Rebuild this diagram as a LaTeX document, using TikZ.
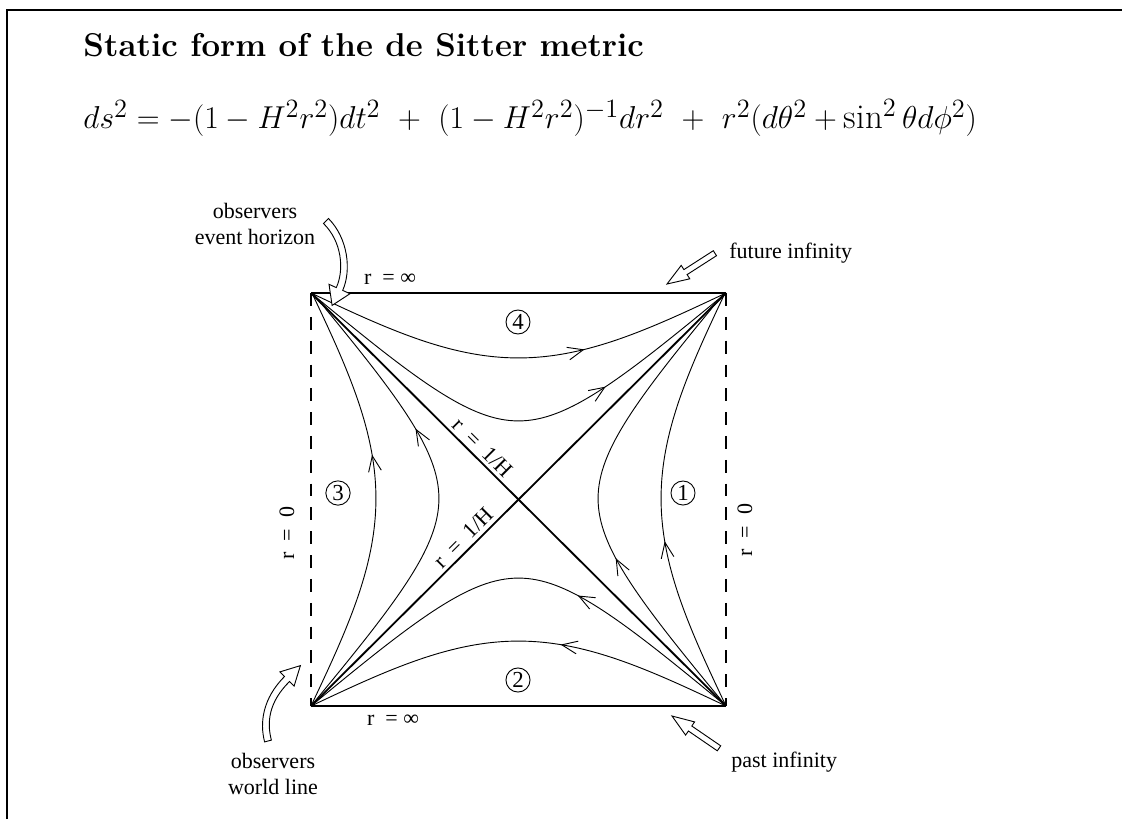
\documentclass[tikz,border=0pt]{standalone}
\usepackage{amsmath,amssymb}
\usepackage{fontspec}
\newfontfamily\tnr{Liberation Serif}
\usetikzlibrary{arrows.meta,decorations.markings}

\tikzset{
  lbl/.style={font=\tnr\fontsize{12}{14}\selectfont, inner sep=0pt},
  edge/.style={line width=0.8pt},
  rzero/.style={line width=0.8pt, dash pattern=on 7pt off 6pt},
  horizon/.style={line width=1pt},
  curve/.style={line width=0.5pt},
  hollow/.style={draw, fill=white, line width=0.5pt, line join=miter},
  region/.style={circle, draw, line width=0.5pt, inner sep=1pt, font=\tnr\fontsize{12.5}{14}\selectfont},
  flow/.style={postaction={decorate}, decoration={markings,
    mark=at position #1 with {\arrow{Straight Barb[length=8.5pt,width=7pt]}}}}
}

\begin{document}
\begin{tikzpicture}[x=0.5455pt, y=-0.5455pt]
\useasboundingbox (0,0) rectangle (1122,819);

% frame
\draw[line width=1.1pt] (7,819) -- (7,10) -- (1122,10);

\node[anchor=west, font=\bfseries\fontsize{18}{21}\selectfont] (title) at (77,45) {Static form of the de Sitter metric};
\node[anchor=west, font=\fontsize{19}{23}\selectfont] (metric) at (77,118)
  {$ds^2 = -(1-H^2r^2)dt^2 \ + \ (1-H^2r^2)^{-1}dr^2 \ + \ r^2(d\theta^2+\sin^2\theta d\phi^2)$};

% corners of the diagram
\coordinate (tl) at (311,293);
\coordinate (tr) at (726,293);
\coordinate (bl) at (311,706);
\coordinate (br) at (726,706);

\draw[edge] (tl) -- (tr);
\draw[edge] (bl) -- (br);
\draw[rzero] (tl) -- (bl);
\draw[rzero] (tr) -- (br);
\draw[horizon] (tl) -- (br);
\draw[horizon] (bl) -- (tr);

% constant r curves, H r = sin(chi)/cos(T)
\foreach \k/\p/\q in {0.472/0.40/0.40, 0.824/0.37/0.37}{
  \draw[curve, flow=\p] plot[domain=1:179, samples=89]
    ({726-415/180*asin(\k*sin(\x))}, {706-415/180*\x}) -- (tr);
  \draw[curve, flow=\q] plot[domain=1:179, samples=89]
    ({726-415/180*\x}, {706-415/180*asin(\k*sin(\x))}) -- (bl);
}
\foreach \k/\p/\q in {0.472/0.60/0.65, 0.824/0.65/0.69}{
  \draw[curve, flow=\p] plot[domain=1:179, samples=89]
    ({311+415/180*asin(\k*sin(\x))}, {706-415/180*\x}) -- (tl);
  \draw[curve, flow=\q] plot[domain=1:179, samples=89]
    ({311+415/180*\x}, {293+415/180*asin(\k*sin(\x))}) -- (tr);
}

% regions
\node[region] (one) at (683,493) {1};
\node[region] (two) at (518,680) {2};
\node[region] (three) at (338,493) {3};
\node[region] (four) at (518,322) {4};

% labels
\node[lbl] (inftop) at (390,279) {r \ = ∞};
\node[lbl] (infbot) at (393,720) {r \ = ∞};
\node[lbl, rotate=90] (zeroleft) at (287,533) {r \ = \ 0};
\node[lbl, rotate=90] (zeroright) at (745,530) {r \ = \ 0};
\node[lbl, rotate=-45, anchor=south] (hup) at (477,453) {r \ = \ 1/H};
\node[lbl, rotate=45, anchor=south] (hdown) at (469,543) {r \ = \ 1/H};

\node[lbl, align=center] (ehlbl) at (255,224) {observers\\event horizon};
\node[lbl, align=center] (wllbl) at (273,774) {observers\\world line};
\node[lbl, anchor=west] (futlbl) at (729,253) {future infinity};
\node[lbl, anchor=west] (pastlbl) at (731,762) {past infinity};

% hollow arrows
\draw[hollow] (328.5,218.5) .. controls (348.2,238.6) and (351.5,270.4) .. (342.7,290.4)
  -- (350,293.7) -- (332.1,305.4) -- (329,284.3) -- (336.3,287.6)
  .. controls (344.5,269.6) and (341.8,241.4) .. (323.5,223.5) -- cycle;
\draw[hollow] (271.4,740.1) .. controls (266.5,721.8) and (269.1,701.7) .. (289.5,681.5)
  -- (294.1,686.1) -- (300.4,665.6) -- (279.9,671.9) -- (284.5,676.5)
  .. controls (262.9,698.3) and (259.5,722.2) .. (264.6,741.9) -- cycle;
\draw[hollow] (667,284) -- (689.8,278.8) -- (687.1,274.6) -- (716.5,255.7)
  -- (713.3,250.7) -- (683.9,269.6) -- (681.2,265.4) -- cycle;
\draw[hollow] (672,716) -- (694.6,721.9) -- (691.8,726.0) -- (720.7,745.8)
  -- (717.3,750.8) -- (688.4,731.0) -- (685.6,735.1) -- cycle;
\end{tikzpicture}
\end{document}
